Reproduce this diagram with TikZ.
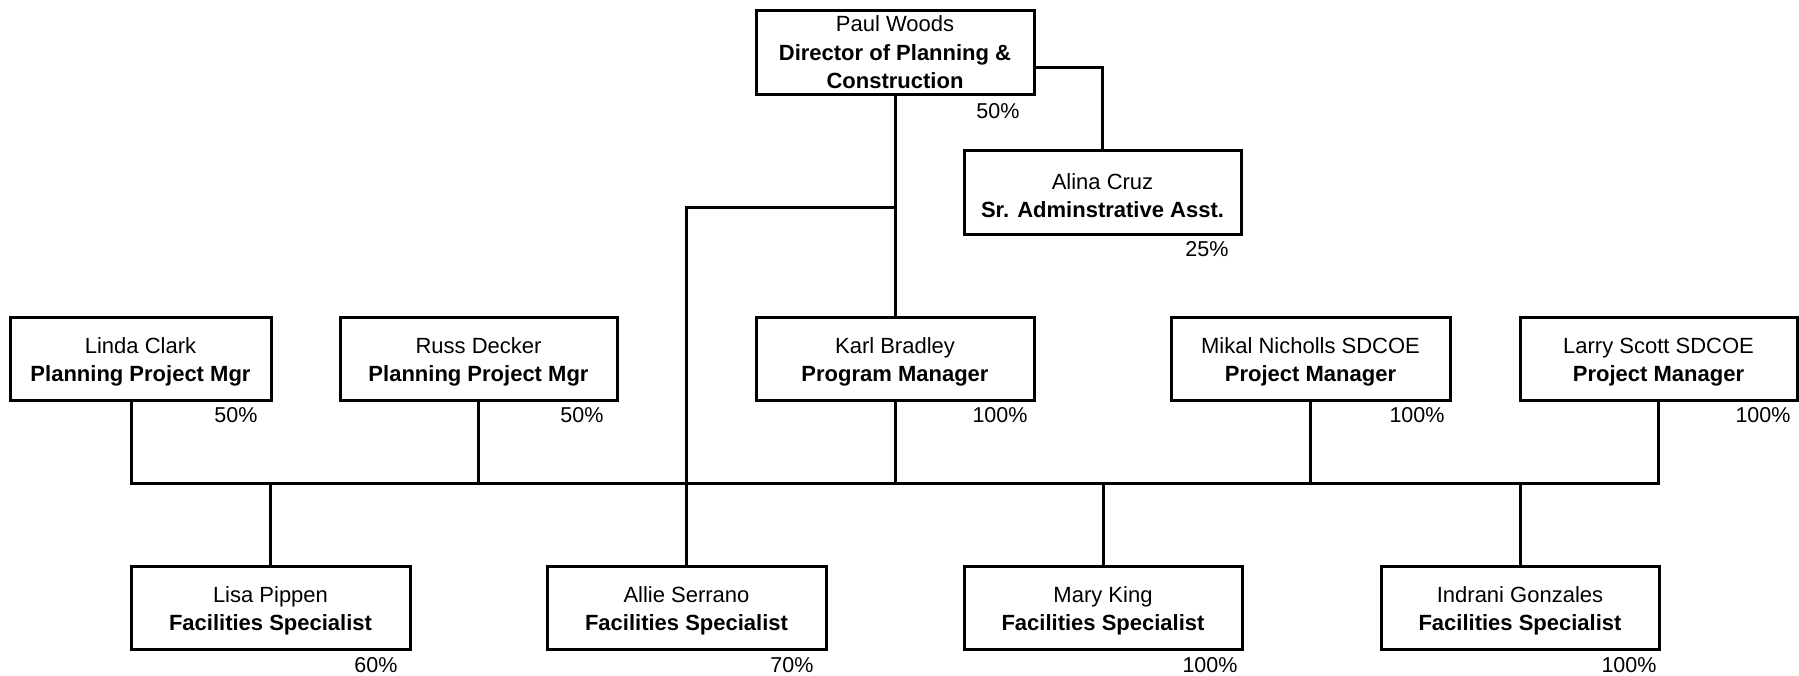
\documentclass[tikz,border=0pt]{standalone}
\usepackage{fontspec}
\setmainfont{Liberation Sans}
\newcommand\dropstrut{\rule{0pt}{23pt}}
\begin{document}
\begin{tikzpicture}[x=1pt,y=-1pt,
  box/.style={draw,line width=3pt,minimum width=278pt,minimum height=83pt,inner sep=0pt,align=center,
    font=\fontsize{22}{28.5}\selectfont},
  pct/.style={inner sep=0pt,font=\fontsize{21.5}{25}\selectfont},
  conn/.style={line width=3pt}]
\useasboundingbox (0,0) rectangle (1799,675);
% boxes
\node[box,minimum height=84pt] (paul) at (895,52) {\rule{0pt}{17pt}Paul Woods\\\textbf{Director of Planning \&}\\\textbf{Construction}};
\node[box,minimum width=277pt,minimum height=84pt] (alina) at (1102.5,192) {\dropstrut Alina Cruz\\\textbf{Sr. Adminstrative Asst.}};
\node[box,minimum width=261pt] (linda) at (140.5,358.5) {\dropstrut Linda Clark\\\textbf{Planning Project Mgr}};
\node[box,minimum width=277pt] (russ) at (478.5,358.5) {\dropstrut Russ Decker\\\textbf{Planning Project Mgr}};
\node[box] (karl) at (895,358.5) {\dropstrut Karl Bradley\\\textbf{Program Manager}};
\node[box,minimum width=279pt] (mikal) at (1310.5,358.5) {\dropstrut Mikal Nicholls SDCOE\\\textbf{Project Manager}};
\node[box,minimum width=277pt] (larry) at (1658.5,358.5) {\dropstrut Larry Scott SDCOE\\\textbf{Project Manager}};
\node[box,minimum width=279pt] (lisa) at (270.5,607.5) {\dropstrut Lisa Pippen\\\textbf{Facilities Specialist}};
\node[box,minimum width=279pt] (allie) at (686.5,607.5) {\dropstrut Allie Serrano\\\textbf{Facilities Specialist}};
\node[box] (mary) at (1103,607.5) {\dropstrut Mary King\\\textbf{Facilities Specialist}};
\node[box] (indrani) at (1520,607.5) {\dropstrut Indrani Gonzales\\\textbf{Facilities Specialist}};
% percentages
\node[pct] (ppaul) at (998,111) {50\%};
\node[pct] (palina) at (1207,249) {25\%};
\node[pct] (plinda) at (236,415) {50\%};
\node[pct] (pruss) at (582,415) {50\%};
\node[pct] (pkarl) at (1000,415) {100\%};
\node[pct] (pmikal) at (1417,415) {100\%};
\node[pct] (plarry) at (1763,415) {100\%};
\node[pct] (plisa) at (376,665) {60\%};
\node[pct] (pallie) at (792,665) {70\%};
\node[pct] (pmary) at (1210,665) {100\%};
\node[pct] (pindrani) at (1629,665) {100\%};
% connectors
\coordinate (pe) at ([yshift=-15pt]paul.east);
\coordinate (br) at (895,207);
\coordinate (ls) at (131,400);
\coordinate (barL) at (131,483);
\coordinate (barR) at (larry.south |- barL);
\draw[conn] (pe) -| (alina.north);
\draw[conn] (paul.south) -- (karl.north);
\draw[conn] (br) -| (allie.north);
\draw[conn] (ls) -- (barL) -- (barR) -- (larry.south);
\draw[conn] (russ.south) -- (russ.south |- barL);
\draw[conn] (karl.south) -- (karl.south |- barL);
\draw[conn] (mikal.south) -- (mikal.south |- barL);
\draw[conn] (lisa.north) -- (lisa.north |- barL);
\draw[conn] (mary.north) -- (mary.north |- barL);
\draw[conn] (indrani.north) -- (indrani.north |- barL);
\end{tikzpicture}
\end{document}
